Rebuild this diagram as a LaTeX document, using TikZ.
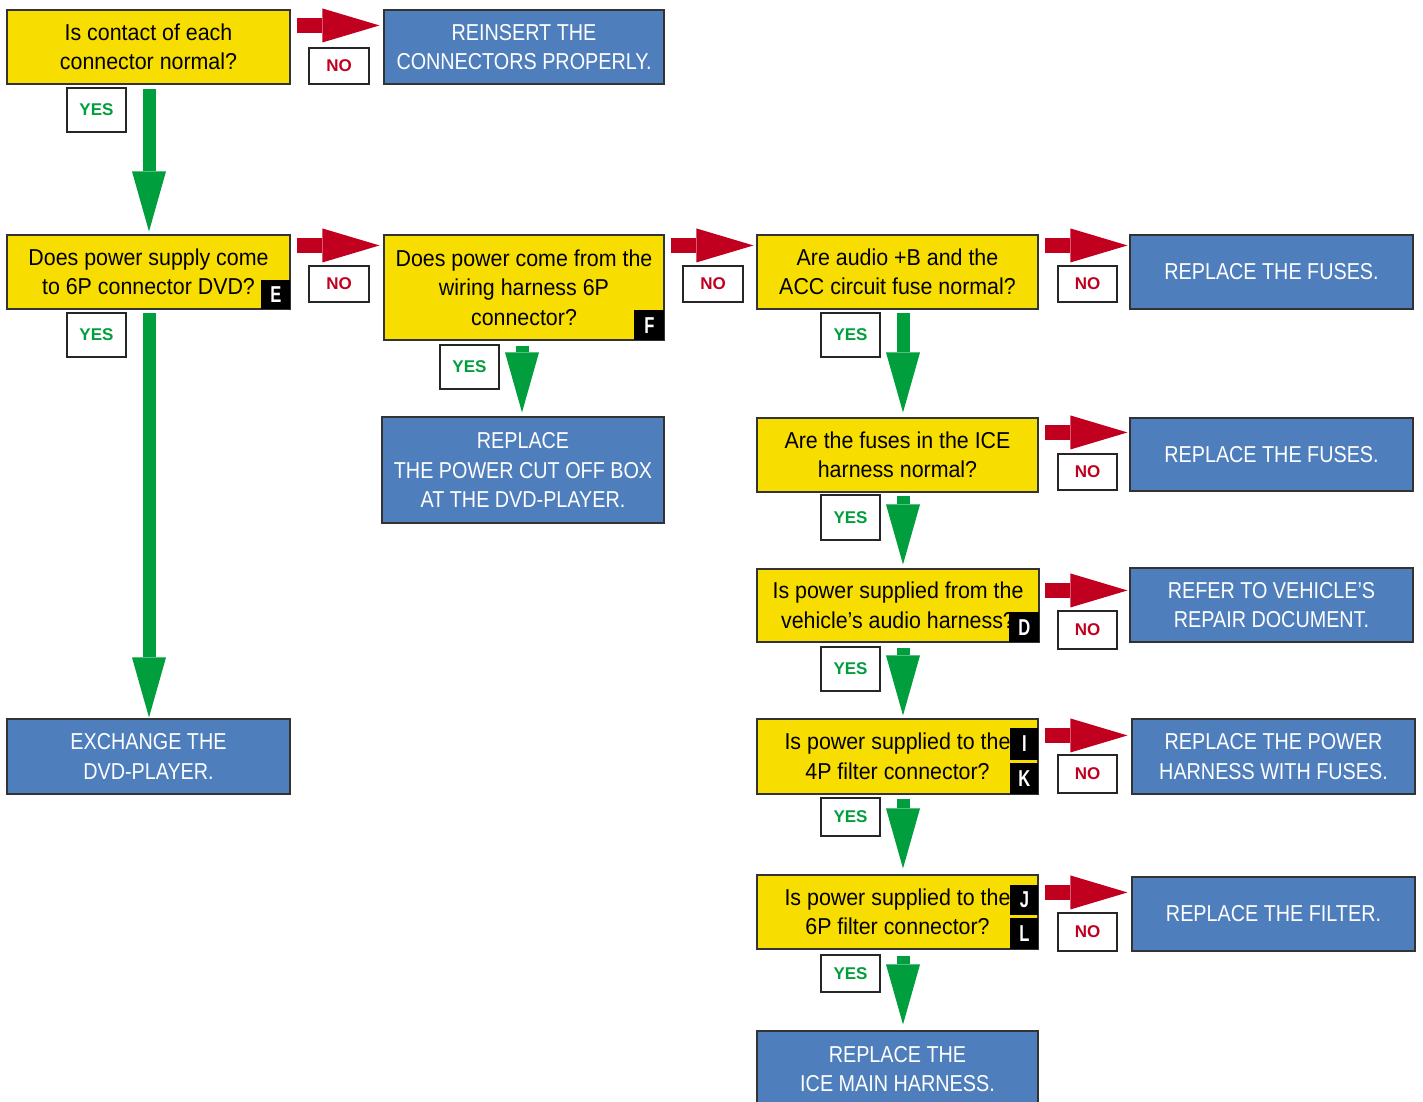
\documentclass[tikz,border=0pt]{standalone}
\usepackage{fontspec}
\setmainfont{Liberation Sans}[FakeStretch=0.93]
\newfontfamily\bluefont{Liberation Sans}[FakeStretch=0.86]
\newfontfamily\tagfont{Liberation Sans}[FakeStretch=0.72]
\newfontfamily\lblfont{Liberation Sans}
\usetikzlibrary{arrows.meta}
\definecolor{qyellow}{RGB}{247,221,0}
\definecolor{ablue}{RGB}{79,126,189}
\definecolor{nored}{RGB}{193,0,32}
\definecolor{yesgreen}{RGB}{0,158,61}
\begin{document}
\begin{tikzpicture}[x=1pt,y=-1pt,
  sz/.style 2 args={minimum width=#1pt, minimum height=#2pt},
  qbox/.style={draw=black!80, line width=1.1pt, fill=qyellow, inner sep=0pt, align=center,
    font=\fontsize{23}{29.5}\selectfont},
  abox/.style={draw=black!80, line width=1.1pt, fill=ablue, text=white, inner sep=0pt, align=center,
    font=\bluefont\fontsize{23}{29.5}\selectfont},
  nolbl/.style={draw=black!85, line width=1.1pt, fill=white, inner sep=0pt, text=nored,
    font=\lblfont\bfseries\fontsize{17}{17}\selectfont},
  yeslbl/.style={draw=black!85, line width=1.1pt, fill=white, inner sep=0pt, text=yesgreen,
    font=\lblfont\bfseries\fontsize{17}{17}\selectfont},
  tagbox/.style={fill=black, text=white, inner sep=0pt,
    font=\tagfont\bfseries\fontsize{23}{23}\selectfont},
  rarrow/.style={draw=nored, line width=15pt, -{Triangle[length=57pt,width=34pt,line width=0pt]}},
  garrow/.style={draw=yesgreen, line width=13pt, -{Triangle[length=60pt,width=34pt,line width=0pt]}}
]
\clip (0,0) rectangle (1423,1102);
\fill[white] (0,0) rectangle (1423,1102);

% question boxes
\node[qbox, sz={283}{74}] (q1) at (148.5,47) {Is contact of each\\connector normal?};
\node[qbox, sz={283}{74}] (q2) at (148.5,272) {Does power supply come\\to 6P connector DVD?};
\node[qbox, sz={280}{105}] (q3) at (524,287.5) {Does power come from the\\wiring harness 6P\\connector?};
\node[qbox, sz={281}{74}] (q4) at (897.5,272) {Are audio +B and the\\ACC circuit fuse normal?};
\node[qbox, sz={281}{74}] (q5) at (897.5,455) {Are the fuses in the ICE\\harness normal?};
\node[qbox, sz={282}{73}] (q6) at (898,605.5) {Is power supplied from the\\vehicle’s audio harness?};
\node[qbox, sz={281}{75}] (q7) at (897.5,756.5) {Is power supplied to the\\4P filter connector?};
\node[qbox, sz={281}{74}] (q8) at (897.5,912) {Is power supplied to the\\6P filter connector?};

% tags
\node[tagbox, sz={29}{29}, anchor=south east] (tE) at (q2.south east) {E};
\node[tagbox, sz={30}{30}, anchor=south east] (tF) at (q3.south east) {F};
\node[tagbox, sz={30}{30}, anchor=south east] (tD) at (q6.south east) {D};
\node[tagbox, sz={28}{31}, anchor=south east] (tK) at (q7.south east) {K};
\node[tagbox, sz={28}{32}, anchor=south east] (tI) at ([yshift=3pt]tK.north east) {I};
\node[tagbox, sz={28}{31}, anchor=south east] (tL) at (q8.south east) {L};
\node[tagbox, sz={28}{30}, anchor=south east] (tJ) at ([yshift=3pt]tL.north east) {J};

% action boxes
\node[abox, sz={280}{74}] (a1) at (524,47) {REINSERT THE\\CONNECTORS PROPERLY.};
\node[abox, sz={283}{75}] (a2) at (148.5,756.5) {EXCHANGE THE\\DVD-PLAYER.};
\node[abox, sz={282}{106}] (a3) at (523,470) {REPLACE\\THE POWER CUT OFF BOX\\AT THE DVD-PLAYER.};
\node[abox, sz={283}{74}] (a4) at (1271.5,272) {REPLACE THE FUSES.};
\node[abox, sz={283}{73}] (a5) at (1271.5,454.5) {REPLACE THE FUSES.};
\node[abox, sz={283}{74}] (a6) at (1271.5,605) {REFER TO VEHICLE’S\\REPAIR DOCUMENT.};
\node[abox, sz={283}{75}] (a7) at (1273.5,756.5) {REPLACE THE POWER\\HARNESS WITH FUSES.};
\node[abox, sz={283}{74}] (a8) at (1273.5,914) {REPLACE THE FILTER.};
\node[abox, sz={281}{76}] (a9) at (897.5,1069) {REPLACE THE\\ICE MAIN HARNESS.};

% NO labels
\node[nolbl, sz={60}{36}] (n1) at (339,66) {NO};
\node[nolbl, sz={60}{36}] (n2) at (339,284) {NO};
\node[nolbl, sz={60}{36}] (n3) at (713,284) {NO};
\node[nolbl, sz={59}{36}] (n4) at (1087.5,284) {NO};
\node[nolbl, sz={59}{36}] (n5) at (1087.5,472) {NO};
\node[nolbl, sz={59}{38}] (n6) at (1087.5,630) {NO};
\node[nolbl, sz={59}{38}] (n7) at (1087.5,774) {NO};
\node[nolbl, sz={59}{38}] (n8) at (1087.5,932) {NO};

% YES labels
\node[yeslbl, sz={59}{44}] (y1) at (96.5,110) {YES};
\node[yeslbl, sz={59}{44}] (y2) at (96.5,335) {YES};
\node[yeslbl, sz={59}{44}] (y3) at (469.5,367) {YES};
\node[yeslbl, sz={59}{44}] (y4) at (850.5,335) {YES};
\node[yeslbl, sz={59}{45}] (y5) at (850.5,517.5) {YES};
\node[yeslbl, sz={59}{44}] (y6) at (850.5,669) {YES};
\node[yeslbl, sz={59}{38}] (y7) at (850.5,817) {YES};
\node[yeslbl, sz={59}{37}] (y8) at (850.5,973.5) {YES};

% NO connectors
\coordinate (r1) at ([shift={(6pt,-16pt)}]q1.north east);
\coordinate (r2) at ([shift={(6pt,-11pt)}]q2.north east);
\coordinate (r3) at ([shift={(6pt,-11pt)}]q3.north east);
\coordinate (r4) at ([shift={(6pt,-11pt)}]q4.north east);
\coordinate (r5) at ([shift={(6pt,-15pt)}]q5.north east);
\coordinate (r6) at ([shift={(5pt,-22pt)}]q6.north east);
\coordinate (r7) at ([shift={(6pt,-17pt)}]q7.north east);
\coordinate (r8) at ([shift={(6pt,-18pt)}]q8.north east);
\draw[rarrow] (r1) -- ([xshift=-4pt]a1.west |- r1);
\draw[rarrow] (r2) -- ([xshift=-4pt]q3.west |- r2);
\draw[rarrow] (r3) -- ([xshift=-3pt]q4.west |- r3);
\draw[rarrow] (r4) -- ([xshift=-2pt]a4.west |- r4);
\draw[rarrow] (r5) -- ([xshift=-2pt]a5.west |- r5);
\draw[rarrow] (r6) -- ([xshift=-2pt]a6.west |- r6);
\draw[rarrow] (r7) -- ([xshift=-4pt]a7.west |- r7);
\draw[rarrow] (r8) -- ([xshift=-4pt]a8.west |- r8);

% YES connectors
\draw[garrow] ([shift={(0.5pt,-4pt)}]q1.south) -- ([shift={(0.5pt,3pt)}]q2.north);
\draw[garrow] ([shift={(0.5pt,-3pt)}]q2.south) -- ([shift={(0.5pt,1pt)}]a2.north);
\draw[garrow] ([shift={(-2pt,-5pt)}]q3.south) -- ([shift={(-1pt,4pt)}]a3.north);
\draw[garrow] ([shift={(5.5pt,-3pt)}]q4.south) -- ([shift={(5.5pt,5pt)}]q5.north);
\draw[garrow] ([shift={(5.5pt,-3pt)}]q5.south) -- ([shift={(5pt,4pt)}]q6.north);
\draw[garrow] ([shift={(5pt,-5pt)}]q6.south) -- ([shift={(5.5pt,3pt)}]q7.north);
\draw[garrow] ([shift={(5.5pt,-4pt)}]q7.south) -- ([shift={(5.5pt,6pt)}]q8.north);
\draw[garrow] ([shift={(5.5pt,-6pt)}]q8.south) -- ([shift={(5.5pt,6pt)}]a9.north);
\end{tikzpicture}
\end{document}
